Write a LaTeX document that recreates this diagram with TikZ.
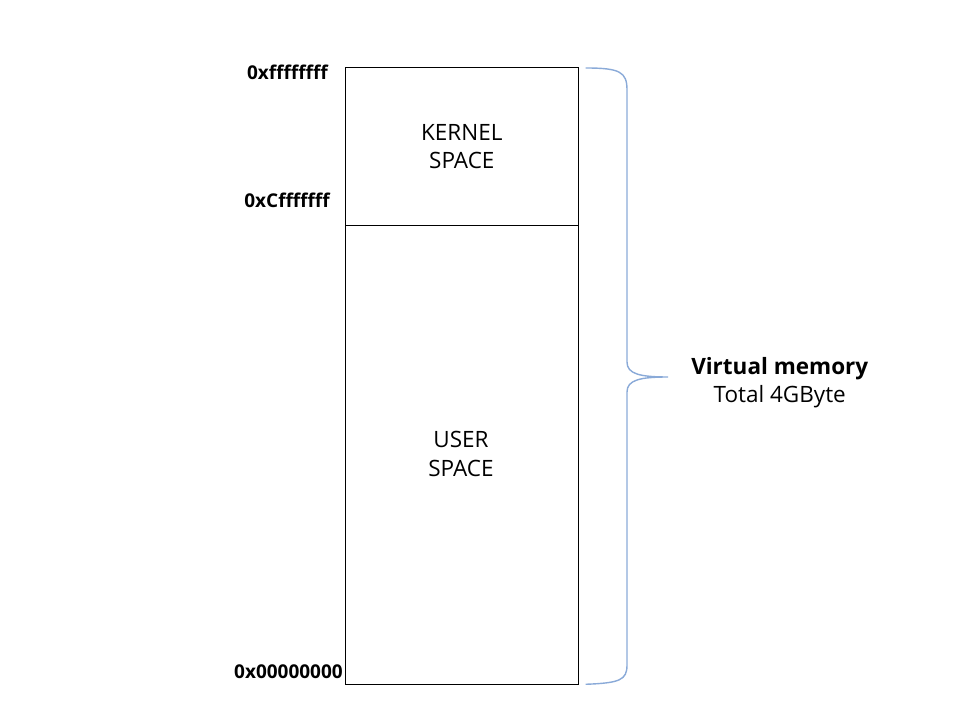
\documentclass[tikz,border=0pt]{standalone}
\usepackage{fontspec}
\setmainfont{Open Sans}
\usetikzlibrary{positioning,calc}
\definecolor{brace}{HTML}{8AAAD8}

\begin{document}
\begin{tikzpicture}[
  x=0.025cm, y=-0.025cm,
  every node/.style={font=\fontsize{16}{20}\selectfont},
  region/.style={minimum width=5.825cm, inner sep=0pt, align=center},
  addr/.style={font=\bfseries\fontsize{13.5}{15}\selectfont, anchor=east, inner sep=0pt},
  bracepath/.style={draw=brace, line width=1pt},
]
  \useasboundingbox (0,0) rectangle (960,720);

  % Memory regions (stacked)
  \node[region, minimum height=3.95cm, anchor=north west] (kernel) at (345,67) {KERNEL\\SPACE};
  \node[region, minimum height=11.45cm, anchor=north, below=0pt of kernel] (user) {};
  \node[align=center] (usertxt) at (461,454) {USER\\SPACE};
  \draw[line width=0.5pt] (kernel.north west) rectangle (user.south east);
  \draw[line width=0.5pt] (kernel.south west) -- (kernel.south east);

  % Address labels
  \node[addr] (top) at (328,72) {0xffffffff};
  \node[addr] (mid) at (330,200) {0xCfffffff};
  \node[addr] (bot) at (343,672) {0x00000000};

  % Brace
  \coordinate (b1) at ($(kernel.north east)+(7,1)$);
  \coordinate (b2) at ($(user.south east)+(7,0)$);
  \coordinate (tip) at (668,377);
  \draw[bracepath] (b1) .. controls (620,68) and (627,72) .. (627,90)
    -- (627,362) .. controls (627,374) and (640,377) .. (tip)
    .. controls (640,377) and (627,380) .. (627,392)
    -- (627,665) .. controls (627,680) and (620,683) .. (b2);

  % Total label
  \node[align=center, right=13pt of tip, yshift=-4pt] (total) {\textbf{Virtual memory}\\Total 4GByte};
\end{tikzpicture}
\end{document}
